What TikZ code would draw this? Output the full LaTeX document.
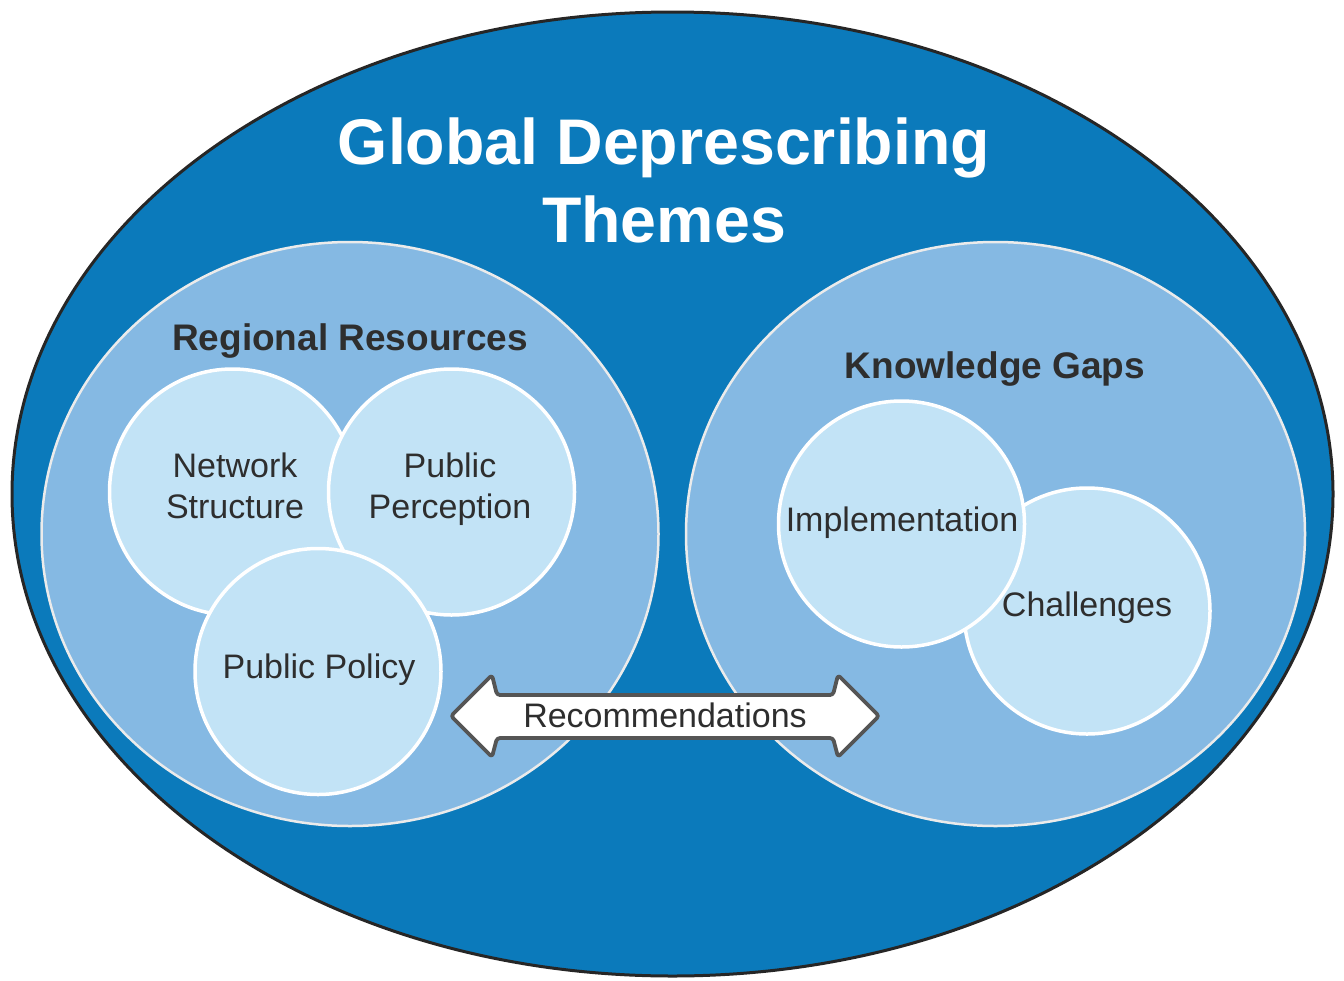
\documentclass[tikz,border=0pt]{standalone}
\usepackage{fontspec}
\setmainfont{Liberation Sans}
\usetikzlibrary{shapes.geometric}
\definecolor{deepblue}{HTML}{0B7ABB}
\definecolor{midblue}{HTML}{85B9E3}
\definecolor{paleblue}{HTML}{C2E3F6}
\definecolor{inktext}{HTML}{2E2E2E}
\definecolor{arrowrim}{HTML}{555555}
\begin{document}
\begin{tikzpicture}[x=1pt,y=-1pt,
  outerbox/.style={ellipse, draw=black!85, line width=3pt, fill=deepblue, inner sep=0pt},
  groupbox/.style={ellipse, draw=white!92!black, line width=2.5pt, fill=midblue, inner sep=0pt},
  themebox/.style={circle, draw=white, line width=3.5pt, fill=paleblue, inner sep=0pt, minimum size=246pt},
  titletext/.style={font=\fontsize{64.5}{77}\selectfont\bfseries, text=white, anchor=base, inner sep=0pt},
  grouptext/.style={font=\fontsize{37}{44}\selectfont\bfseries, text=inktext, anchor=base, inner sep=0pt},
  themetext/.style={font=\fontsize{34}{41}\selectfont, text=inktext, anchor=base, inner sep=0pt},
]
\useasboundingbox (0,0) rectangle (1344,980);

% outer theme ellipse
\node[outerbox, minimum width=1321pt, minimum height=964pt] (global) at (672.5,494) {};

% title
\node[titletext] (title1) at (664,164) {Global Deprescribing};
\node[titletext] (title2) at (664,242) {Themes};

% two groups
\node[groupbox, minimum width=617pt, minimum height=584pt] (regional) at (350,534) {};
\node[groupbox, minimum width=619pt, minimum height=584pt] (knowledge) at (995.5,534) {};

\node[grouptext] (regionallabel) at (350,350) {Regional Resources};
\node[grouptext] (knowledgelabel) at (995,378) {Knowledge Gaps};

% regional resource circles
\node[themebox] (network) at (232.5,492) {};
\node[themebox] (perception) at (451.5,492) {};
\node[themebox] (policy) at (318,671.5) {};

\node[themetext] (network1) at (235,477) {Network};
\node[themetext] (network2) at (235,518) {Structure};
\node[themetext] (perception1) at (450,477) {Public};
\node[themetext] (perception2) at (450,518) {Perception};
\node[themetext] (policylabel) at (319,678) {Public Policy};

% knowledge gap circles
\node[themebox] (challenges) at (1087,611) {};
\node[themebox] (implementation) at (901.5,524) {};

\node[themetext] (challengeslabel) at (1087,616) {Challenges};
\node[themetext] (implementationlabel) at (902,531) {Implementation};

% two-headed recommendations arrow
\draw[draw=arrowrim, line width=3.8pt, fill=white, rounded corners=3pt, line join=round]
  (451,716) -- (492,675) -- (497,695) -- (833,695) -- (838,675) -- (879,716)
  -- (838,757) -- (833,738) -- (497,738) -- (492,757) -- cycle;
\node[themetext] (recommendations) at (665,727) {Recommendations};
\end{tikzpicture}
\end{document}
